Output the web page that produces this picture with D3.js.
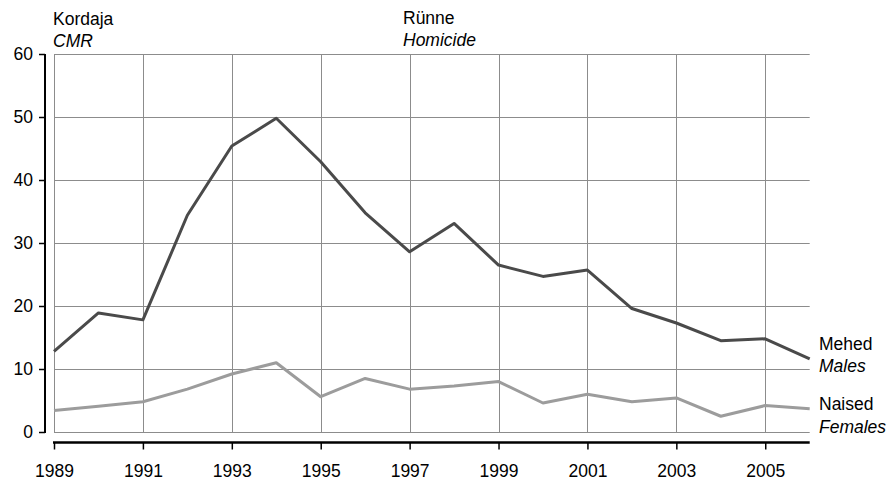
<!DOCTYPE html>
<html>
<head>
<meta charset="utf-8">
<script src="https://cdn.jsdelivr.net/npm/d3@7"></script>
<style>
  html, body { margin: 0; padding: 0; background: #fff; }
  svg { display: block; font-family: "Liberation Sans", Arial, sans-serif; }
</style>
</head>
<body>
<svg id="chart" width="893" height="486"></svg>
<script>
const years = [1989,1990,1991,1992,1993,1994,1995,1996,1997,1998,1999,2000,2001,2002,2003,2004,2005,2006];
const males = [12.8,18.9,17.8,34.4,45.4,49.8,42.9,34.8,28.6,33.1,26.5,24.7,25.7,19.6,17.3,14.5,14.8,11.6];
const females = [3.4,4.1,4.8,6.8,9.2,11.0,5.6,8.5,6.8,7.3,8.0,4.6,6.0,4.8,5.4,2.5,4.2,3.7];
const yTicks = [0,10,20,30,40,50,60];
const xTicks = [1989,1991,1993,1995,1997,1999,2001,2003,2005];

const FS = 17.5;
const svg = d3.select("#chart");
const x = d3.scaleLinear().domain([1989, 2006]).range([54, 809.7]);
const y = d3.scaleLinear().domain([0, 60]).range([432, 54]);

// grid
const grid = svg.append("g");
grid.selectAll("line.h").data(yTicks).join("line")
  .attr("x1", x(1989)).attr("x2", x(2006))
  .attr("y1", d => y(d) + 0.5).attr("y2", d => y(d) + 0.5)
  .attr("stroke", "#8c8c8c").attr("stroke-width", 1);
grid.selectAll("line.v").data(xTicks).join("line")
  .attr("x1", d => Math.round(x(d)) + 0.5).attr("x2", d => Math.round(x(d)) + 0.5)
  .attr("y1", y(60)).attr("y2", y(0))
  .attr("stroke", "#8c8c8c").attr("stroke-width", 1);

// y axis
const yAxis = svg.append("g").attr("transform", "translate(45,0)")
  .call(d3.axisLeft(y).tickValues(yTicks).tickSize(6).tickPadding(6));
yAxis.select(".domain").attr("d", `M0,${y(60)}V${y(0)+1}`).attr("stroke", "#000").attr("stroke-width", 2);
yAxis.selectAll(".tick line").attr("stroke", "#000").attr("stroke-width", 1.5);
yAxis.selectAll(".tick text").attr("font-size", FS).attr("fill", "#000")
  .attr("font-family", "Liberation Sans, Arial, sans-serif");

// x axis
const xAxis = svg.append("g").attr("transform", "translate(0,442.5)")
  .call(d3.axisBottom(x).tickValues(xTicks).tickFormat(d3.format("d")).tickSize(7).tickPadding(15.5));
xAxis.select(".domain").attr("d", `M${x(1989)-1},0H${x(2006)}`).attr("stroke", "#000").attr("stroke-width", 2.5);
xAxis.selectAll(".tick line").attr("stroke", "#000").attr("stroke-width", 1.5);
xAxis.selectAll(".tick text").attr("font-size", FS).attr("fill", "#000")
  .attr("font-family", "Liberation Sans, Arial, sans-serif");

// lines
const line = d3.line().x((d, i) => x(years[i])).y(d => y(d));
svg.append("path").datum(females).attr("d", line)
  .attr("fill", "none").attr("stroke", "#9c9c9c").attr("stroke-width", 3).attr("stroke-linejoin", "round");
svg.append("path").datum(males).attr("d", line)
  .attr("fill", "none").attr("stroke", "#4a4a4a").attr("stroke-width", 3).attr("stroke-linejoin", "round");

// titles
function label(xp, yp, t, italic) {
  svg.append("text").attr("x", xp).attr("y", yp).text(t)
    .attr("font-size", FS).attr("fill", "#000")
    .attr("font-style", italic ? "italic" : "normal");
}
label(53, 25, "Kordaja", false);
label(53, 47, "CMR", true);
label(403, 24, "Rünne", false);
label(403, 46, "Homicide", true);
label(819, 350, "Mehed", false);
label(819, 372, "Males", true);
label(819, 410, "Naised", false);
label(819, 433, "Females", true);
</script>
</body>
</html>
